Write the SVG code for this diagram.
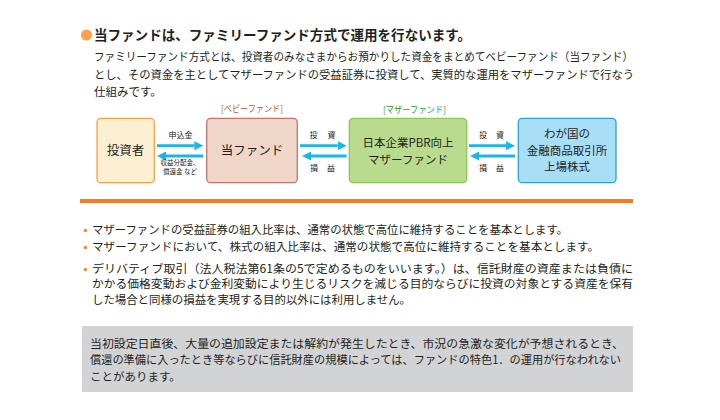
<svg xmlns="http://www.w3.org/2000/svg" width="720" height="420" viewBox="0 0 720 420">
<style>
text{font-family:"Noto Sans CJK JP","Noto Sans",sans-serif;fill:#231f20}
.title{font-size:13.5px;font-weight:bold}
.body{font-size:11.5px}
.node{font-size:12.5px}
.nodes{font-size:11.5px}
.lbl{font-size:8px}
.lbls{font-size:6.5px}
.arr{stroke:#1cb5ea;stroke-width:2.8;fill:none}
.dot{fill:#f58a2e}
</style>
<defs>
<marker id="ah" markerWidth="9" markerHeight="9" refX="0" refY="4.5" orient="auto" markerUnits="userSpaceOnUse"><path d="M0,0 L9,4.5 L0,9 Z" fill="#1cb5ea"/></marker>
</defs>
<rect width="720" height="420" fill="#ffffff"/>
<g id="title">
<circle cx="86.5" cy="35" r="5.5" fill="#f9a14b"/>
<text class="title" x="94" y="40.3" textLength="377" lengthAdjust="spacingAndGlyphs">当ファンドは、ファミリーファンド方式で運用を行ないます。</text>
</g>
<g id="intro">
<text class="body" x="94" y="61" textLength="539" lengthAdjust="spacingAndGlyphs">ファミリーファンド方式とは、投資者のみなさまからお預かりした資金をまとめてベビーファンド（当ファンド）</text>
<text class="body" x="94" y="78.7" textLength="540" lengthAdjust="spacingAndGlyphs">とし、その資金を主としてマザーファンドの受益証券に投資して、実質的な運用をマザーファンドで行なう</text>
<text class="body" x="94" y="96.4">仕組みです。</text>
</g>
<g id="label-baby"><text x="252" y="111.7" text-anchor="middle" font-size="9" style="fill:#c4503c" textLength="62" lengthAdjust="spacingAndGlyphs">[ベビーファンド]</text></g>
<g id="label-mother"><text x="414.5" y="112.5" text-anchor="middle" font-size="9" style="fill:#2f9e3a" textLength="63" lengthAdjust="spacingAndGlyphs">[マザーファンド]</text></g>
<g id="investor">
<rect x="97" y="118.3" width="57.3" height="64.4" rx="4" fill="#fdefd2" stroke="#f6a04c" stroke-width="1.3"/>
<text class="node" x="125.6" y="155.2" text-anchor="middle">投資者</text>
</g>
<g id="babyfund">
<rect x="206.7" y="118.3" width="90.6" height="64.4" rx="4" fill="#efd6c9" stroke="#c4756b" stroke-width="1.3"/>
<text class="node" x="252" y="155.2" text-anchor="middle">当ファンド</text>
</g>
<g id="motherfund">
<rect x="349.3" y="118.3" width="117.4" height="64.4" rx="4" fill="#b9db8d" stroke="#8cc55a" stroke-width="1.3"/>
<text class="nodes" x="408" y="147.2" text-anchor="middle">日本企業PBR向上</text>
<text class="nodes" x="408" y="163.9" text-anchor="middle">マザーファンド</text>
</g>
<g id="market">
<rect x="518.3" y="118.3" width="97.7" height="64.4" rx="4" fill="#a9def7" stroke="#2f9fd8" stroke-width="1.3"/>
<text class="nodes" x="567" y="138.4" text-anchor="middle">わが国の</text>
<text class="nodes" x="567" y="154.9" text-anchor="middle">金融商品取引所</text>
<text class="nodes" x="567" y="171.4" text-anchor="middle">上場株式</text>
</g>
<g id="connectors">
<path class="arr" d="M157,145.7 H194.3" marker-end="url(#ah)"/>
<path class="arr" d="M203.3,156 H166" marker-end="url(#ah)"/>
<path class="arr" d="M300,145.7 H337.7" marker-end="url(#ah)"/>
<path class="arr" d="M346.7,156 H311" marker-end="url(#ah)"/>
<path class="arr" d="M469,145.7 H506" marker-end="url(#ah)"/>
<path class="arr" d="M515,156 H479" marker-end="url(#ah)"/>
<text class="lbl" x="180.5" y="138" text-anchor="middle">申込金</text>
<text class="lbls" x="180" y="164.8" text-anchor="middle">収益分配金、</text>
<text class="lbls" x="180" y="174.2" text-anchor="middle">償還金 など</text>
<text class="lbl" x="313.5" y="138" text-anchor="middle">投</text>
<text class="lbl" x="331.5" y="138" text-anchor="middle">資</text>
<text class="lbl" x="314" y="170.5" text-anchor="middle">損</text>
<text class="lbl" x="331" y="170.5" text-anchor="middle">益</text>
<text class="lbl" x="483" y="138" text-anchor="middle">投</text>
<text class="lbl" x="500" y="138" text-anchor="middle">資</text>
<text class="lbl" x="483" y="170.5" text-anchor="middle">損</text>
<text class="lbl" x="500" y="170.5" text-anchor="middle">益</text>
</g>
<rect x="80" y="199" width="553" height="4" fill="#f47a28"/>
<g id="bullets">
<circle class="dot" cx="85.4" cy="230.5" r="1.8"/>
<circle class="dot" cx="85.4" cy="247.5" r="1.8"/>
<circle class="dot" cx="85.4" cy="269.5" r="1.8"/>
<text class="body" x="92" y="233.5" textLength="476" lengthAdjust="spacingAndGlyphs">マザーファンドの受益証券の組入比率は、通常の状態で高位に維持することを基本とします。</text>
<text class="body" x="92" y="250.5" textLength="507" lengthAdjust="spacingAndGlyphs">マザーファンドにおいて、株式の組入比率は、通常の状態で高位に維持することを基本とします。</text>
<text class="body" x="92" y="272.5" textLength="541" lengthAdjust="spacingAndGlyphs">デリバティブ取引（法人税法第61条の5で定めるものをいいます。）は、信託財産の資産または負債に</text>
<text class="body" x="92" y="288.3" textLength="541" lengthAdjust="spacingAndGlyphs">かかる価格変動および金利変動により生じるリスクを減じる目的ならびに投資の対象とする資産を保有</text>
<text class="body" x="92" y="304" textLength="319" lengthAdjust="spacingAndGlyphs">した場合と同様の損益を実現する目的以外には利用しません。</text>
</g>
<g id="note">
<rect x="82" y="326" width="551" height="66" fill="#d2d3d5"/>
<text class="body" x="90" y="347.5" textLength="534" lengthAdjust="spacingAndGlyphs">当初設定日直後、大量の追加設定または解約が発生したとき、市況の急激な変化が予想されるとき、</text>
<text class="body" x="90" y="364.4" textLength="531" lengthAdjust="spacingAndGlyphs">償還の準備に入ったとき等ならびに信託財産の規模によっては、ファンドの特色1．の運用が行なわれない</text>
<text class="body" x="90" y="381">ことがあります。</text>
</g>
</svg>
